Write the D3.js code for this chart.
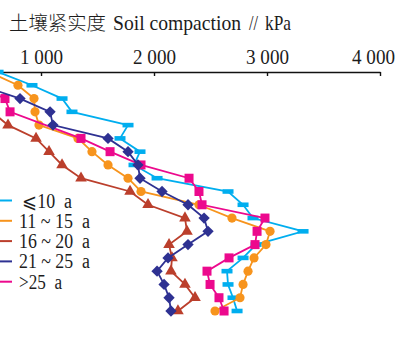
<!DOCTYPE html>
<html>
<head>
<meta charset="utf-8">
<script src="https://cdn.jsdelivr.net/npm/d3@7"></script>
<style>
  html, body { margin: 0; padding: 0; background: #fff; }
  svg { display: block; }
  text { white-space: pre; }
</style>
</head>
<body>
<svg id="chart" width="400" height="341"></svg>
<script>
// Soil penetration resistance profiles by stand age (depth in cm, resistance in kPa)
const depths = [0, 2.5, 5, 7.5, 10, 12.5, 15, 17.5, 20, 22.5, 25, 27.5, 30, 32.5, 35, 37.5, 40, 42.5, 45];

const seriesNames = ["⩽10  a", "11 ~ 15  a", "16 ~ 20  a", "21 ~ 25  a", ">25  a"];

const ageLe10   = [620, 920, 1186, 1274, 1770, 1699, 1876, 1823, 2027, 2655, 2788, 2876, 3319, 2903, 2788, 2646, 2655, 2699, 2735];
const age11to15 = [540, 796, 938, 947, 982, 1327, 1451, 1593, 1770, 1885, 2398, 2690, 3027, 2991, 2885, 2832, 2788, 2761, 2540];
const age16to20 = [null, null, null, 566, 708, 956, 1071, 1186, 1354, 1788, 1947, 2274, 2292, 2133, 2159, 2150, 2274, 2363, 2212];
const age21to25 = [null, 460, 814, 1080, 1106, 1593, 1770, 1858, 1876, 2071, 2301, 2443, 2478, 2301, 2124, 2027, 2089, 2133, 2150];
const ageGt25   = [null, 416, 681, 726, null, 1354, 1611, 1885, 2310, 2398, 2425, 2982, 2912, 2894, 2664, 2469, 2496, 2575, 2620];

const xTicks = [1000, 2000, 3000, 4000];
const titleCn = "土壤紧实度";
const titleEn = "Soil compaction";
const titleUnit = "kPa";

const colors = ["#00aeef", "#f7941d", "#bb3f2c", "#2e3192", "#ec098d"];
const shapes = ["bar", "circle", "triangle", "diamond", "square"];
const values = [ageLe10, age11to15, age16to20, age21to25, ageGt25];

const svg = d3.select("#chart");
svg.append("rect").attr("width", 400).attr("height", 341).attr("fill", "#fff");

const x = d3.scaleLinear().domain([637, 4000]).range([0, 380]);
const y = d3.scaleLinear().domain([0, 45]).range([72, 311]);

const fmt = d3.formatLocale({ decimal: ".", thousands: " ", grouping: [3], currency: ["", ""] }).format(",");

const serif = "'Liberation Serif', 'Noto Sans CJK SC', serif";
const ink = "#1c1c1c";

// axis title
const title = svg.append("g").attr("font-family", serif).attr("fill", ink);
title.append("text").attr("x", 9).attr("y", 30).attr("font-size", 19)
  .attr("font-family", "'Noto Sans CJK SC', serif").attr("font-weight", 300)
  .attr("textLength", 97).attr("lengthAdjust", "spacingAndGlyphs").text(titleCn);
title.append("text").attr("x", 113).attr("y", 30).attr("font-size", 21)
  .attr("textLength", 128).attr("lengthAdjust", "spacingAndGlyphs").text(titleEn);
title.append("text").attr("x", 249).attr("y", 30).attr("font-size", 20)
  .attr("textLength", 9).attr("lengthAdjust", "spacingAndGlyphs").text("//");
title.append("text").attr("x", 265).attr("y", 30).attr("font-size", 21)
  .attr("textLength", 26).attr("lengthAdjust", "spacingAndGlyphs").text(titleUnit);

// top axis with inward ticks
const axis = d3.axisTop(x)
  .tickValues(xTicks)
  .tickFormat(fmt)
  .tickSizeInner(-4)
  .tickSizeOuter(0)
  .tickPadding(8);

const gAxis = svg.append("g").attr("transform", "translate(0,72)").call(axis);
gAxis.select(".domain").attr("stroke", "#111").attr("stroke-width", 1.6);
gAxis.selectAll(".tick line").attr("stroke", "#111").attr("stroke-width", 1.4);
gAxis.selectAll(".tick text")
  .attr("font-family", serif)
  .attr("font-size", 20)
  .attr("fill", ink)
  .attr("textLength", 43)
  .attr("lengthAdjust", "spacingAndGlyphs")
  .attr("dx", d => d === 4000 ? -7 : 0);

// series: lines and markers
const drawOrder = [0, 2, 1, 4, 3];
const plot = svg.append("g");

function marker(g, shape, color) {
  if (shape === "bar") {
    g.append("rect").attr("x", -5.5).attr("y", -2.3).attr("width", 11).attr("height", 4.6).attr("fill", color);
  } else if (shape === "square") {
    g.append("rect").attr("x", -4.5).attr("y", -4.5).attr("width", 9).attr("height", 9).attr("fill", color);
  } else if (shape === "diamond") {
    g.append("rect").attr("x", -4).attr("y", -4).attr("width", 8).attr("height", 8)
      .attr("transform", "rotate(45)").attr("fill", color);
  } else {
    const t = { circle: d3.symbolCircle, triangle: d3.symbolTriangle }[shape];
    const s = { circle: 66, triangle: 58 }[shape];
    g.append("path").attr("d", d3.symbol().type(t).size(s)()).attr("fill", color);
  }
}

drawOrder.forEach(i => {
  const pts = depths.map((d, k) => ({ d, v: values[i][k] })).filter(p => p.v != null);
  const g = plot.append("g");
  g.append("path")
    .datum(pts)
    .attr("fill", "none")
    .attr("stroke", colors[i])
    .attr("stroke-width", 1.8)
    .attr("d", d3.line().x(p => x(p.v)).y(p => y(p.d)));
  g.selectAll("g.m")
    .data(pts)
    .join("g")
    .attr("class", "m")
    .attr("transform", p => `translate(${x(p.v)},${y(p.d)})`)
    .each(function () { marker(d3.select(this), shapes[i], colors[i]); });
});

// legend
const legendWidths = [50, 71, 71, 71, 43];
const legend = svg.append("g");
seriesNames.forEach((name, i) => {
  const ly = 200.5 + i * 20.3;
  legend.append("line")
    .attr("x1", 0).attr("x2", 12)
    .attr("y1", ly).attr("y2", ly)
    .attr("stroke", colors[i]).attr("stroke-width", 2);
  legend.append("text")
    .attr("x", i === 0 ? 22 : 19).attr("y", ly + 7)
    .attr("font-family", serif)
    .attr("font-size", 20)
    .attr("fill", ink)
    .attr("textLength", legendWidths[i])
    .attr("lengthAdjust", "spacingAndGlyphs")
    .text(name);
});
</script>
</body>
</html>
